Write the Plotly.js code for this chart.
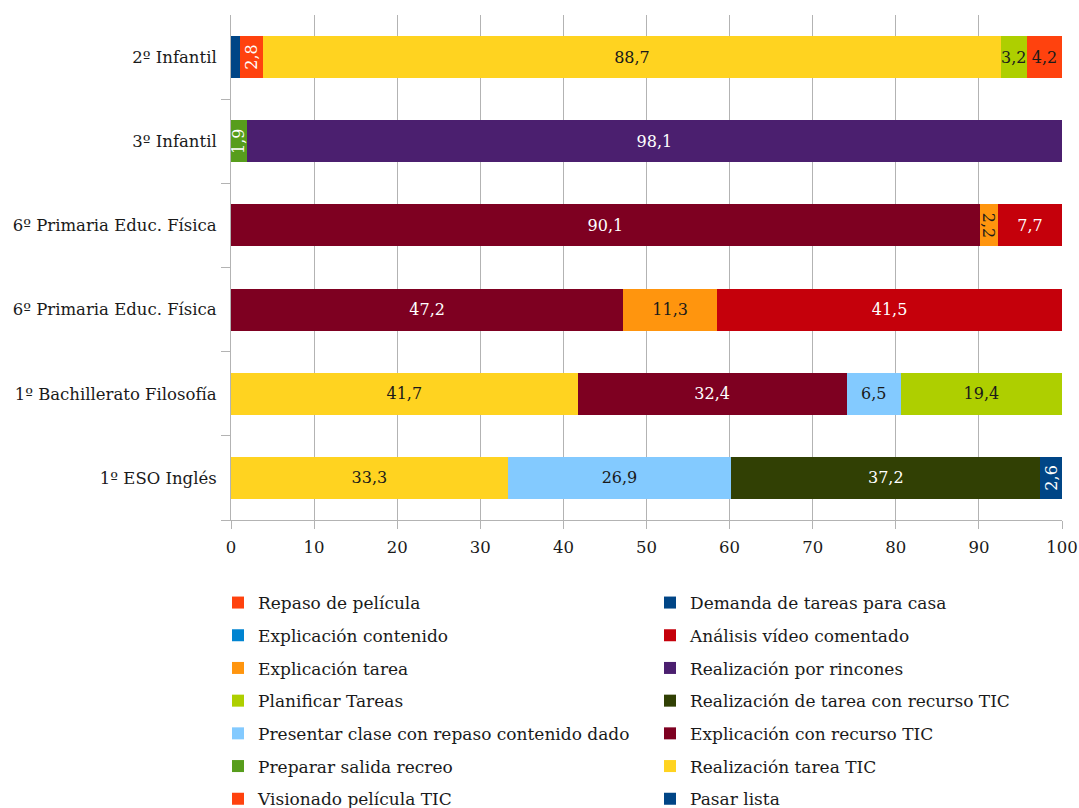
<!DOCTYPE html>
<html>
<head>
<meta charset="utf-8">
<script src="https://cdn.plot.ly/plotly-3.0.1.min.js"></script>
<style>html,body{margin:0;padding:0;background:#fff;}#chart{width:1079px;height:808px;}</style>
</head>
<body>
<div id="chart"></div>
<script>
// Categories (bottom to top)
var categories = ["1º ESO Inglés", "1º Bachillerato Filosofía", "6º Primaria Educ. Física", "6º Primaria Educ. Física", "3º Infantil", "2º Infantil"];

// Series values, one per category (null = not present)
var pasarLista            = [null, null, null, null, null, 1.1];
var visionadoPelicula     = [null, null, null, null, null, 2.8];
var realizacionTareaTIC   = [33.3, 41.7, null, null, null, 88.7];
var prepararSalida        = [null, null, null, null, 1.9, null];
var explicacionRecursoTIC = [null, 32.4, 47.2, 90.1, null, null];
var presentarClase        = [26.9, 6.5, null, null, null, null];
var realizacionRecursoTIC = [37.2, null, null, null, null, null];
var planificarTareas      = [null, 19.4, null, null, null, 3.2];
var realizacionRincones   = [null, null, null, null, 98.1, null];
var explicacionTarea      = [null, null, 11.3, 2.2, null, null];
var analisisVideo         = [null, null, 41.5, 7.7, null, null];
var explicacionContenido  = [null, null, null, null, null, null];
var demandaTareas         = [2.6, null, null, null, null, null];
var repasoPelicula        = [null, null, null, null, null, 4.2];

var seriesNames = ["Pasar lista", "Visionado película TIC", "Realización tarea TIC", "Preparar salida recreo",
  "Explicación con recurso TIC", "Presentar clase con repaso contenido dado", "Realización de tarea con recurso TIC",
  "Planificar Tareas", "Realización por rincones", "Explicación tarea", "Análisis vídeo comentado",
  "Explicación contenido", "Demanda de tareas para casa", "Repaso de película"];
var seriesValues = [pasarLista, visionadoPelicula, realizacionTareaTIC, prepararSalida, explicacionRecursoTIC,
  presentarClase, realizacionRecursoTIC, planificarTareas, realizacionRincones, explicacionTarea, analisisVideo,
  explicacionContenido, demandaTareas, repasoPelicula];

var colors = ["#004586", "#ff420e", "#ffd320", "#579d1c", "#7e0021", "#83caff", "#314004",
  "#aecf00", "#4b1f6f", "#ff950e", "#c5000b", "#0084d1", "#004586", "#ff420e"];
var textColors = ["#fff", "#fff", "#1a1a1a", "#fff", "#fff", "#1a1a1a", "#fff",
  "#1a1a1a", "#fff", "#1a1a1a", "#fff", "#fff", "#fff", "#1a1a1a"];
var textAngles = [0, -90, 0, -90, 0, 0, 0, 0, 0, 'auto', 0, 0, -90, 0];

var FONT = "DejaVu Serif";
var yIdx = categories.map(function (c, i) { return i; });

var traces = seriesNames.map(function (name, i) {
  var leftCol = (i % 2 === 1);
  return {
    type: "bar",
    orientation: "h",
    name: name,
    x: seriesValues[i],
    y: yIdx,
    marker: { color: colors[i], line: { width: 0 } },
    texttemplate: "%{x:.1f}",
    textposition: i === 0 ? "none" : "inside",
    insidetextanchor: "middle",
    constraintext: "none",
    textangle: textAngles[i],
    insidetextfont: { family: FONT, size: 16, color: textColors[i] },
    hoverinfo: "name+x",
    legend: leftCol ? "legend" : "legend2",
    legendgroup: "g" + i,
    legendrank: 1000 - i
  };
});

var legendCommon = {
  orientation: "v",
  traceorder: "grouped",
  tracegroupgap: 7.6,
  font: { family: FONT, size: 17, color: "#1a1a1a" },
  itemwidth: 30,
  xref: "container", yref: "container",
  xanchor: "left", yanchor: "top",
  bgcolor: "rgba(0,0,0,0)"
};

var layout = {
  width: 1079, height: 808,
  margin: { l: 231, r: 17, t: 15, b: 288, autoexpand: false },
  paper_bgcolor: "#fff", plot_bgcolor: "#fff",
  barmode: "stack",
  bargap: 0.5,
  separators: ",.",
  showlegend: true,
  font: { family: FONT, size: 16, color: "#1a1a1a" },
  xaxis: {
    range: [0, 100], dtick: 10, tick0: 0,
    showgrid: true, gridcolor: "#b3b3b3", gridwidth: 1,
    zeroline: false,
    showline: true, linecolor: "#b3b3b3", linewidth: 1,
    ticks: "outside", ticklen: 8, tickcolor: "#b3b3b3",
    ticklabelstandoff: 4,
    tickfont: { family: FONT, size: 16.5, color: "#1a1a1a" },
    fixedrange: true
  },
  yaxis: {
    range: [-0.5, 5.5],
    tickmode: "array", tickvals: yIdx, ticktext: categories,
    showgrid: false, zeroline: false,
    showline: true, linecolor: "#b3b3b3", linewidth: 1,
    ticks: "outside", ticklen: 10, tickcolor: "rgba(0,0,0,0)",
    minor: { tickmode: "array", tickvals: [-0.5, 0.5, 1.5, 2.5, 3.5, 4.5], ticks: "outside", ticklen: 9, tickcolor: "#b3b3b3", showgrid: false },
    tickfont: { family: FONT, size: 16.5, color: "#1a1a1a" },
    fixedrange: true
  },
  legend: Object.assign({}, legendCommon, { x: 218 / 1079, y: 1 - 585 / 808 }),
  legend2: Object.assign({}, legendCommon, { x: 650 / 1079, y: 1 - 585 / 808 })
};

Plotly.newPlot("chart", traces, layout, { displayModeBar: false, staticPlot: true });
</script>
</body>
</html>
